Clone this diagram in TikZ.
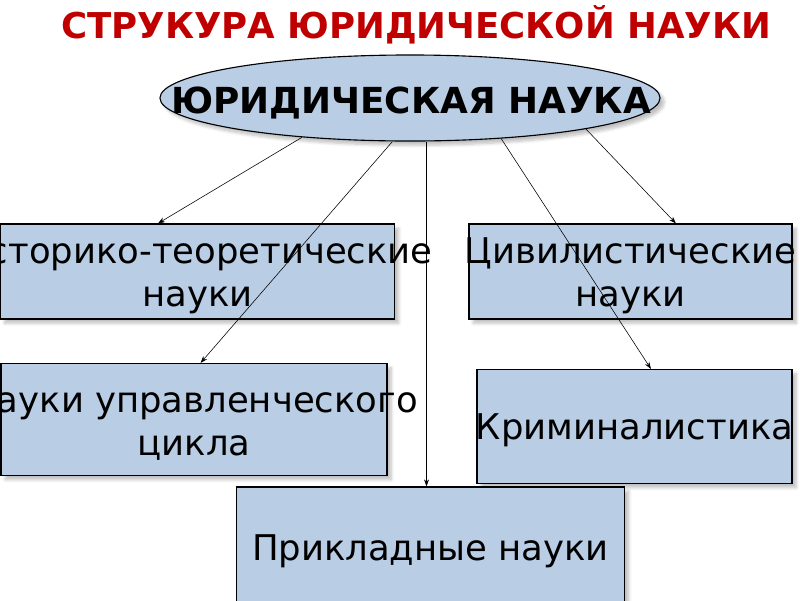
\documentclass[tikz,border=0pt]{standalone}
\usepackage{fontspec}
\setmainfont{DejaVu Sans}
\usepackage{tikz}
\usetikzlibrary{calc,shapes,positioning,shadows.blur,arrows.meta}
\definecolor{darkred}{HTML}{C00000}
\definecolor{steelfill}{HTML}{B9CDE5}

\begin{document}
\begin{tikzpicture}[
    x=0.025cm, y=-0.025cm,
    sciencebox/.style={
        draw=black,
        fill=steelfill,
        line width=0.8pt,
        blur shadow={shadow xshift=3pt, shadow yshift=-3pt, shadow blur steps=6, shadow opacity=25}
    },
    boxtext/.style={align=center, yshift=-0.1cm, font=\fontsize{25.2}{30.6}\selectfont},
    link/.style={-{Stealth[length=5pt,width=3.5pt]}, line width=0.4pt}
]
    \useasboundingbox (0,0) rectangle (800,600);

    % Title
    \node[anchor=base, text=darkred, font=\fontsize{25.3}{28}\selectfont\bfseries] (title) at (416,38) {СТРУКУРА ЮРИДИЧЕСКОЙ НАУКИ};

    % Root
    \node[sciencebox, ellipse, minimum width=12.5cm, minimum height=2.15cm] (law) at (410,98) {};
    \node[anchor=base, font=\fontsize{25.5}{28}\selectfont\bfseries] (lawtext) at (411,113) {ЮРИДИЧЕСКАЯ НАУКА};

    % Left column
    \node[sciencebox, minimum width=9.85cm, minimum height=2.375cm] (hist) at (197.5,271.5) {};
    \node[boxtext] (histtext) at (hist.center) {Историко-теоретические\\науки};

    \node[sciencebox, minimum width=9.65cm, minimum height=2.8cm] (manage) at (194,419.5) {};
    \node[boxtext] (managetext) at (manage.center) {Науки управленческого\\цикла};

    % Right column
    \node[sciencebox, minimum width=8.075cm, minimum height=2.375cm] (civil) at (630.5,271.5) {};
    \node[boxtext] (civiltext) at (civil.center) {Цивилистические\\науки};

    \node[sciencebox, minimum width=7.875cm, minimum height=2.85cm] (crim) at (634.5,426.5) {};
    \node[boxtext] (crimtext) at (crim.center) {Криминалистика};

    % Bottom
    \node[sciencebox, minimum width=9.7cm, minimum height=3cm] (applied) at (430.5,547) {};
    \node[boxtext] (appliedtext) at (applied.center) {Прикладные науки};

    % Links
    \draw[link] (law.200) -- ($(hist.north west)!0.4!(hist.north east)$);
    \draw[link] (law.248) -- ($(manage.north west)!0.517!(manage.north east)$);
    \draw[link] ([xshift=-0.1cm]applied.north |- law.south) -- ([xshift=-0.1cm]applied.north);
    \draw[link] (law.336) -- ($(crim.north west)!0.552!(crim.north east)$);
    \draw[link] (law.350) -- ($(civil.north west)!0.64!(civil.north east)$);
\end{tikzpicture}
\end{document}
